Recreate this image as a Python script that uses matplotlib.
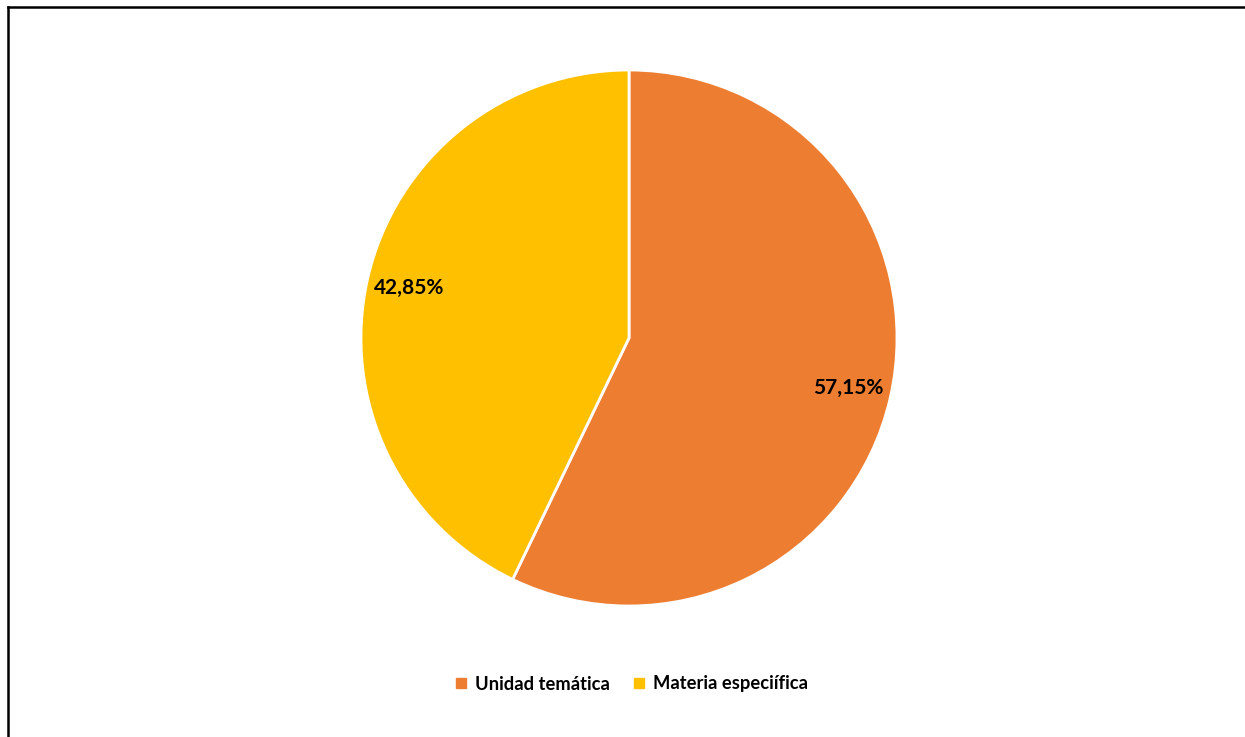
import matplotlib.pyplot as plt
from matplotlib.lines import Line2D

# --- data ---
labels = ["Unidad temática", "Materia especiífica"]
values = [57.15, 42.85]
colors = ["#ED7D31", "#FFC000"]

plt.rcParams["font.family"] = ["Lato", "DejaVu Sans"]

W, H = 1245, 737
fig = plt.figure(figsize=(W / 100, H / 100), dpi=100)

# pie axes: center (629, 338) px, radius ~268 px
cx, cy, r = 629, 338, 268
ax = fig.add_axes([(cx - r) / W, (H - cy - r) / H, 2 * r / W, 2 * r / H])

wedges, texts, autotexts = ax.pie(
    values, colors=colors, startangle=90, counterclock=False,
    autopct=lambda p: f"{p:.2f}%".replace(".", ","),
    pctdistance=0.84,
    wedgeprops=dict(edgecolor="white", linewidth=2),
)
for t in autotexts:
    t.set_fontsize(15)
    t.set_fontweight("bold")
    t.set_color("black")
ax.set_xlim(-1, 1)
ax.set_ylim(-1, 1)
ax.set_aspect("equal")

# --- legend ---
handles = [Line2D([0], [0], marker="s", linestyle="none", markersize=7,
                  markerfacecolor=c, markeredgecolor=c) for c in colors]
fig.legend(handles, labels, loc="center", bbox_to_anchor=(632 / W, 1 - 684 / H),
           ncol=2, frameon=False, handlelength=0.6, handletextpad=0.45,
           columnspacing=1.3, prop=dict(size=13.2, weight="bold"))

# --- outer border (top and left visible) ---
fig.add_artist(Line2D([8 / W, 8 / W], [0, 1 - 7 / H], color="black", linewidth=1.8,
                      transform=fig.transFigure))
fig.add_artist(Line2D([8 / W, 1], [1 - 7 / H, 1 - 7 / H], color="black", linewidth=1.8,
                      transform=fig.transFigure))

fig.savefig("out.png", dpi=100)
